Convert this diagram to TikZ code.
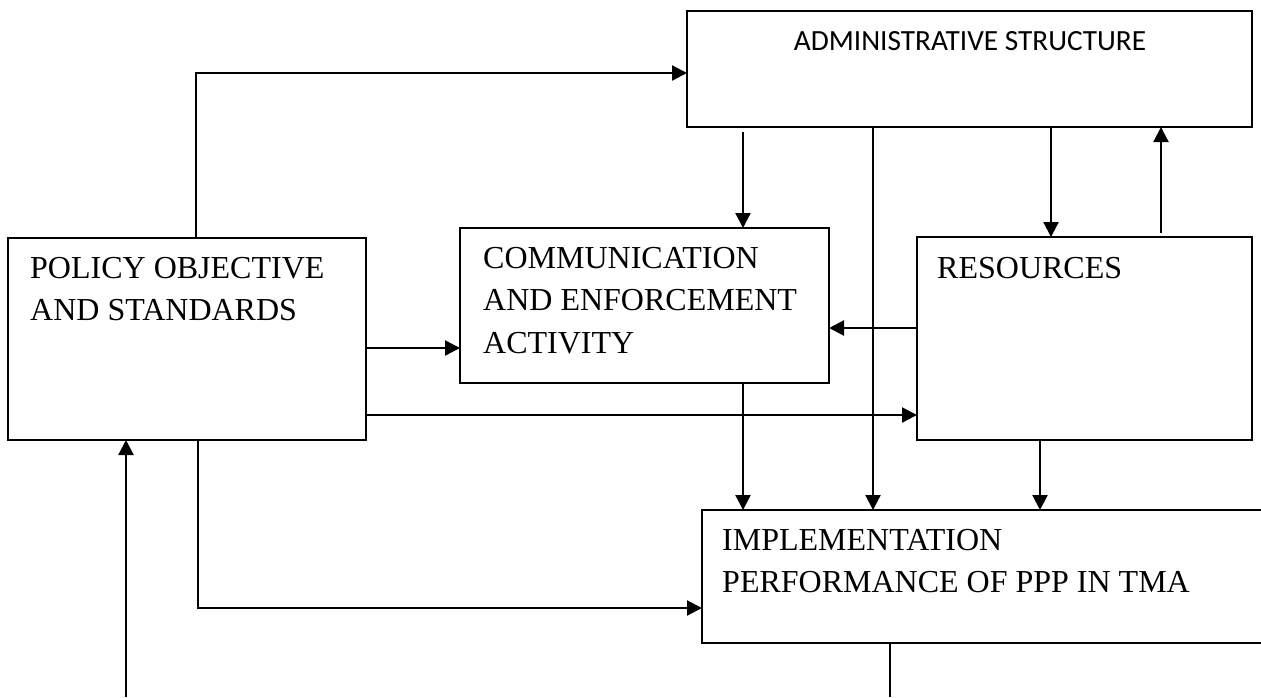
\documentclass[tikz,border=0pt]{standalone}
\usepackage{fontspec}
\setmainfont{Liberation Serif}
\newfontfamily\calib{Carlito}
\usetikzlibrary{arrows.meta}
\begin{document}
\begin{tikzpicture}[x=1pt,y=-1pt,
  box/.style={draw, line width=2pt, inner sep=0pt, outer sep=0pt},
  txt/.style={inner sep=0pt, align=left, font=\fontsize{32}{42.5}\selectfont, anchor=north west},
  arr/.style={line width=2.2pt, -{Triangle[length=15pt,width=15pt]}},
  ln/.style={line width=2.2pt}]
\useasboundingbox (0,0) rectangle (1261,697);
\clip (0,0) rectangle (1261,697);
\fill[white] (0,0) rectangle (1261,697);

% boxes
\node[box, minimum width=565pt, minimum height=116pt] (adm) at (969.5,69) {};
\node[box, minimum width=358pt, minimum height=202pt] (pol) at (187,339) {};
\node[box, minimum width=369pt, minimum height=155pt] (com) at (644.5,305.5) {};
\node[box, minimum width=335pt, minimum height=203pt] (res) at (1084.5,338.5) {};
\node[box, minimum width=600pt, minimum height=133pt] (imp) at (1002,576.5) {};

% texts
\node[inner sep=0pt, anchor=base, font=\calib\fontsize{29.3}{35}\selectfont] (admtxt) at (970,50) {ADMINISTRATIVE STRUCTURE};
\node[txt] (poltxt) at (30,257) {POLICY OBJECTIVE\\AND STANDARDS};
\node[txt] (comtxt) at (483,247) {COMMUNICATION\\AND ENFORCEMENT\\ACTIVITY};
\node[txt] (restxt) at (937,257) {RESOURCES};
\node[txt] (imptxt) at (722,529) {IMPLEMENTATION\\PERFORMANCE OF PPP IN TMA};

% helper coordinates
\coordinate (c196) at (196,73);
\coordinate (c198) at (198,608);
\coordinate (s743) at (743,132);
\coordinate (x743) at (743,0);
\coordinate (x873) at (873,0);
\coordinate (x1051) at (1051,0);
\coordinate (s1161) at (1161,233);
\coordinate (x1040) at (1040,0);
\coordinate (y328) at (0,328);
\coordinate (y348) at (0,348);
\coordinate (y415) at (0,415);
\coordinate (fb1) at (890,697);
\coordinate (fb2) at (126,697);

% connectors
\draw[arr] (pol.north -| c196) -- (c196) -- (adm.west |- c196);
\draw[arr] (s743) -- (com.north -| s743);
\draw[arr] (adm.south -| x873) -- (imp.north -| x873);
\draw[arr] (adm.south -| x1051) -- (res.north -| x1051);
\draw[arr] (s1161) -- (adm.south -| s1161);
\draw[arr] (res.west |- y328) -- (com.east |- y328);
\draw[arr] (pol.east |- y348) -- (com.west |- y348);
\draw[arr] (pol.east |- y415) -- (res.west |- y415);
\draw[arr] (com.south -| x743) -- (imp.north -| x743);
\draw[arr] (res.south -| x1040) -- (imp.north -| x1040);
\draw[arr] (pol.south -| c198) -- (c198) -- (imp.west |- c198);
\draw[ln] (imp.south -| fb1) -- (fb1);
\draw[arr] (fb2) -- (pol.south -| fb2);
\end{tikzpicture}
\end{document}
